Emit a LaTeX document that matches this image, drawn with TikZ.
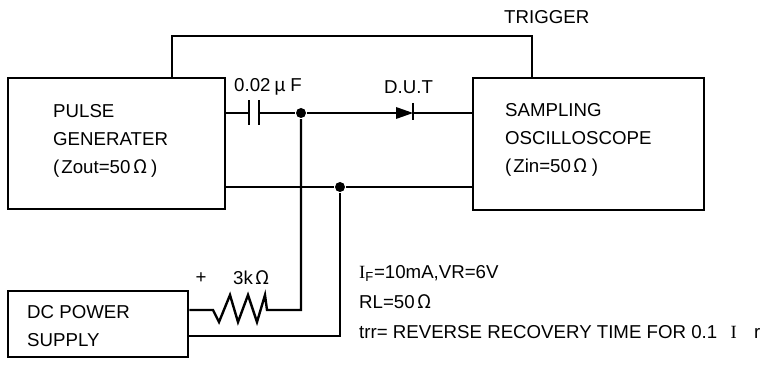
\documentclass[tikz,border=0pt]{standalone}
\usepackage{fontspec}
\setmainfont{Liberation Sans}
\newfontfamily\jpfont{Noto Sans CJK JP}
\newfontfamily\romfont{Liberation Serif}
\usetikzlibrary{positioning}
\tikzstyle{box}=[draw=black,line width=2.2pt,shape=rectangle,inner sep=0pt]
\tikzstyle{txt}=[inner sep=0pt,align=left,anchor=west,font=\fontsize{14}{21}\selectfont]
\tikzstyle{dot}=[fill=black,shape=circle,inner sep=0pt,minimum size=7.5pt]
\newcommand{\ohm}{\hspace{2pt}{\jpfont Ω}}

\begin{document}
\begin{tikzpicture}[x=0.75pt,y=-0.75pt,line width=1.8pt]
	\useasboundingbox (0,0) rectangle (768,367);
	\node[box,minimum width=162.75pt,minimum height=98.25pt] (pg) at (116.5,143.5) {};
	\node[box,minimum width=173.25pt,minimum height=99pt] (so) at (588.5,144) {};
	\node[box,minimum width=135pt,minimum height=49.5pt] (dc) at (98,324) {};
	\node[txt] (pgt) at (52,140.5) {PULSE\\GENERATER\\(\hspace{1.5pt}Zout=50\ohm\hspace{3pt})};
	\node[txt] (sot) at (504,139.5) {SAMPLING\\OSCILLOSCOPE\\(\hspace{1.5pt}Zin=50\ohm\hspace{3pt})};
	\node[txt,font=\fontsize{14}{20.5}\selectfont] (dct) at (26,326) {DC POWER\\SUPPLY};
	\node[txt] (trig) at (503,17) {TRIGGER};
	\node[txt] (cap) at (233,87) {0.02\hspace{3pt}{\jpfont μ}\hspace{3pt}F};
	\node[txt] (dut) at (383,87) {D.U.T};
	\node[txt,anchor=center] (plus) at (201,278) {+};
	\node[txt] (res) at (232,278) {3k\ohm};
	\node[txt,font=\fontsize{14}{22.5}\selectfont] (cond) at (358,302)
		{{\romfont I}\textsubscript{F}=10mA,VR=6V\\RL=50\ohm\\trr= REVERSE RECOVERY TIME FOR 0.1\hspace{10pt}{\romfont I}\hspace{13pt}r};
	\node[dot] (j1) at (301,113) {};
	\node[dot] (j2) at (340,187) {};
	\coordinate (t1) at (172,36);
	\coordinate (t2) at (532,36);
	\coordinate (cl) at (249,113);
	\coordinate (cr) at (259,113);
	\coordinate (da) at (396,113);
	\coordinate (dk) at (413,113);
	\coordinate (ra) at (213,310);
	\coordinate (rb) at (267,310);
	\coordinate (gl) at (0,336);
	% trigger line
	\draw (pg.north -| t1) -- (t1) -- (t2) -- (so.north -| t2);
	% signal line with capacitor and diode
	\draw (pg.east |- cl) -- (cl);
	\draw[line width=2.2pt] (cl) ++(0,-12.5) -- ++(0,25);
	\draw[line width=2.2pt] (cr) ++(0,-12.5) -- ++(0,25);
	\draw (cr) -- (j1) -- (da);
	\fill (da) ++(0,-6) -- (dk) -- ++(-17,6) -- cycle;
	\draw (dk) ++(0,-10) -- ++(0,17);
	\draw (dk) -- (so.west |- dk);
	% return line
	\draw (pg.east |- j2) -- (j2) -- (so.west |- j2);
	% bias through resistor
	\draw (j1) |- (rb) -- ++(-2,-15) -- ++(-8,27) -- ++(-9,-27) -- ++(-10,27)
		-- ++(-8,-27) -- ++(-11,27) -- (ra) -- (dc.east |- ra);
	\draw (j2) |- (dc.east |- gl);
\end{tikzpicture}
\end{document}
